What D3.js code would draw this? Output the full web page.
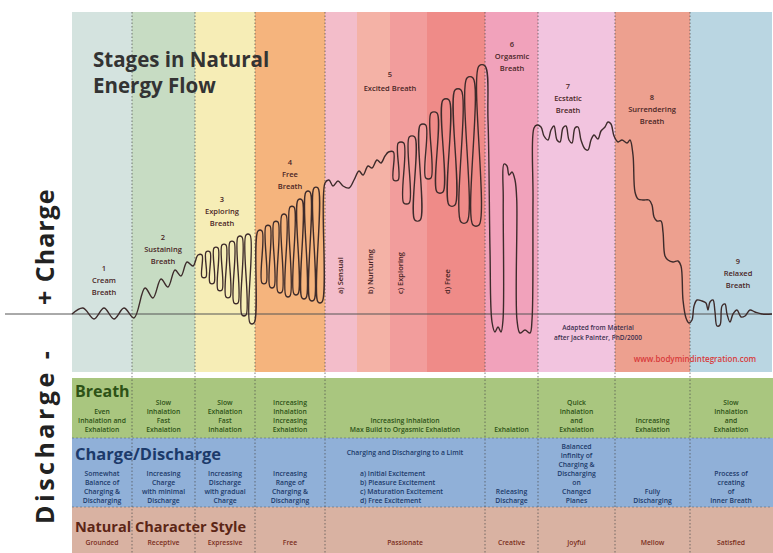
<!DOCTYPE html>
<html>
<head>
<meta charset="utf-8">
<script src="https://cdn.jsdelivr.net/npm/d3@7"></script>
<style>
body { margin: 0; background: #fff; }
svg { display: block; font-family: "Open Sans", "DejaVu Sans", sans-serif; }
</style>
</head>
<body>
<svg id="chart" width="773" height="553"></svg>
<script>
// ---- data (time units along x, charge level along y, 0 = baseline) ----
var stageNums = ["1", "2", "3", "4", "5", "6", "7", "8", "9"];
var stageNames = [["Cream", "Breath"], ["Sustaining", "Breath"], ["Exploring", "Breath"],
  ["Free", "Breath"], ["Excited Breath"], ["Orgasmic", "Breath"], ["Ecstatic", "Breath"],
  ["Surrendering", "Breath"], ["Relaxed", "Breath"]];
var stageBounds = [0, 12, 24.6, 36.6, 50.6, 82.6, 93.2, 108.6, 123.6, 140];
var excitedBounds = [50.6, 57, 63.6, 71, 82.6];
var excitedLabels = ["a) Sensual", "b) Nurturing", "c) Exploring", "d) Free"];

// gentle wave (stage 1) rising into stage 2
var calmWave = [[0, 0], [2.2, 2.4], [4.4, -2], [6.4, 2.4], [8.4, -2], [10.4, 2.4], [12.4, -1.6],
  [14.6, 10.4], [16.2, 6.4], [17.8, 14], [19.2, 10.8], [20.6, 17.6], [21.8, 15.2], [23, 20.8], [24.2, 19.2]];

// breath pulses: centre, top, bottom
var exploringT = [25.6, 27.2, 28.8, 30.4, 32, 33.6, 35.2];
var exploringTop = [23.6, 24.8, 26.4, 27.6, 28.8, 30.8, 31.6];
var exploringBot = [14.8, 12.4, 9.6, 6.8, 4.4, -0.4, -3.6];

var freeT = [37.6, 39.2, 40.8, 42.4, 44, 45.6, 47.2, 48.8];
var freeTop = [33.2, 35.2, 36.8, 39.6, 42.8, 45.6, 48.8, 50.4];
var freeBot = [12.4, 10.8, 8.8, 7.2, 8, 6.4, 5.6, 4.8];

var excitedWave = [[50.6, 52.4], [51.4, 53.6], [52.2, 51.2], [53.2, 53.2], [54.2, 51.2], [55.4, 50.4],
  [56.4, 53.6], [57.4, 57.2], [58.2, 55.6], [59.2, 59.2], [60, 58.4], [61, 61.6], [61.8, 60.4], [62.6, 63.2]];
var excitedT = [63.8, 65.8, 68, 70.2, 72.4, 74.8, 77.2, 79.6, 82];
var excitedTop = [64.8, 68.4, 70.8, 75.6, 80.4, 85.6, 89.6, 94.4, 99.2];
var excitedBot = [53.6, 44.4, 37.6, 54.4, 48.8, 43.6, 36.8, 35.6, null];

var orgasmicWave = [[83.2, 77.6], [83.6, 25.6], [84, -3.2], [84.6, -7.2], [85.2, -5.2], [85.8, -7.2],
  [86.2, -2.4], [86.25, 45.6], [86.4, 60], [87, 59.2], [87.4, 55.6], [88, 56.8], [88.6, 53.6],
  [88.95, 45.6], [89, -2.4], [89.6, -7.6], [90.6, -6.4], [91.6, -7.6], [92, -2.4], [92.2, 45.6], [92.4, 74.4]];

var ecstaticWave = [[93, 75.6], [93.8, 74.8], [94.4, 71.2], [95.2, 69.6], [95.8, 73.6], [96.4, 75.2],
  [97, 69.6], [97.6, 68.8], [98.2, 74.4], [98.8, 75.2], [99.4, 69.6], [100, 68.4], [100.6, 74.4],
  [101.2, 74.8], [101.8, 69.6], [102.6, 66], [103.2, 65.6], [103.8, 69.6], [104.4, 71.6], [105.2, 70],
  [105.8, 73.2], [106.6, 74.8], [107.2, 76.8], [107.8, 76], [108.4, 71.2], [109.2, 68.8]];

var surrenderWave = [[110, 69.6], [111, 68.4], [111.6, 69.6], [112.2, 63.6], [112.6, 48.8], [113.2, 46],
  [114.2, 45.6], [115.4, 45.6], [116, 43.6], [116.4, 38.8], [117, 37.2], [117.8, 37.2], [118.2, 32.8],
  [118.6, 23.2], [119.2, 21.6], [120.2, 20.8], [121.2, 21.2], [121.8, 19.2], [122.2, 5.6],
  [122.8, -1.6], [123.4, -3.6], [124, -2.4]];

var relaxedWave = [[124.4, 3.2], [125, 5.6], [126, 5.2], [126.8, 4.4], [127.2, 1.6], [127.6, 4.8],
  [128.2, 5.6], [128.6, 0.8], [129, -4.8], [129.6, -4.4], [130, 3.2], [130.6, 4], [131, 0],
  [131.6, -3.2], [132.2, 0], [133, 1.6], [133.8, -1.2], [134.6, -0.8], [135.6, 1.6], [136.6, 0.8],
  [138, 0], [140, 0]];

// table rows
var breathRow = [["Even", "Inhalation and", "Exhalation"], ["Slow", "Inhalation", "Fast", "Exhalation"],
  ["Slow", "Exhalation", "Fast", "Inhalation"], ["Increasing", "Inhalation", "Increasing", "Exhalation"],
  ["Increasing Inhalation", "Max Build to Orgasmic Exhalation"], ["Exhalation"],
  ["Quick", "Inhalation", "and", "Exhalation"], ["Increasing", "Exhalation"],
  ["Slow", "Inhalation", "and", "Exhalation"]];
var chargeRow = [["Somewhat", "Balance of", "Charging &", "Discharging"],
  ["Increasing", "Charge", "with minimal", "Discharge"], ["Increasing", "Discharge", "with gradual", "Charge"],
  ["Increasing", "Range of", "Charging &", "Discharging"], [],
  ["Releasing", "Discharge"],
  ["Balanced", "Infinity of", "Charging &", "Discharging", "on", "Changed", "Planes"],
  ["Fully", "Discharging"], ["Process of", "creating", "of", "Inner Breath"]];
var chargeLimitTitle = "Charging and Discharging to a Limit";
var chargeLimitList = ["a) Initial Excitement", "b) Pleasure Excitement", "c) Maturation Excitement", "d) Free Excitement"];
var characterRow = ["Grounded", "Receptive", "Expressive", "Free", "Passionate", "Creative", "Joyful", "Mellow", "Satisfied"];

// ---- styles & layout ----
var stageColors = ["#d4e3df", "#c7dcc3", "#f6edb6", "#f5b47d", null, "#f1a2bb", "#f2c4df", "#eda08f", "#bad6e2"];
var excitedColors = ["#f3bdca", "#f4b2a6", "#f29d9c", "#ef8b88"];
var labelAnchors = [[6.4, 17.2], [18.2, 29.6], [30, 44.8], [43.6, 59.6], [63.6, 94.8],
  [88, 106.8], [99.2, 90], [116, 85.6], [133.2, 20]];
var plotTop = 12, plotBottom = 372;
var rows = {breath: [378, 438], charge: [438, 507], character: [507, 553]};

var svg = d3.select("#chart");

var x = d3.scaleLinear().domain([0, 140]).range([72, 772]);
var y = d3.scaleLinear().domain([-20, 100]).range([364, 64]);

// background bands
stageBounds.slice(0, -1).forEach(function(b, i) {
  if (i === 4) return;
  svg.append("rect")
    .attr("x", x(b)).attr("y", plotTop)
    .attr("width", x(stageBounds[i + 1]) - x(b)).attr("height", plotBottom - plotTop)
    .attr("fill", stageColors[i]);
});
excitedBounds.slice(0, -1).forEach(function(b, i) {
  svg.append("rect")
    .attr("x", x(b)).attr("y", plotTop)
    .attr("width", x(excitedBounds[i + 1]) - x(b)).attr("height", plotBottom - plotTop)
    .attr("fill", excitedColors[i]);
});

// table rows
var rowColors = {breath: "#a9c67f", charge: "#90b0d8", character: "#d9b2a2"};
Object.keys(rows).forEach(function(k) {
  svg.append("rect")
    .attr("x", x(0)).attr("y", rows[k][0])
    .attr("width", x(140) - x(0) + 1).attr("height", rows[k][1] - rows[k][0])
    .attr("fill", rowColors[k]);
});
[rows.charge[0], rows.character[0]].forEach(function(yy) {
  svg.append("line")
    .attr("x1", x(0)).attr("x2", x(140))
    .attr("y1", yy).attr("y2", yy)
    .attr("stroke", "#5a6b7a").attr("stroke-width", 1)
    .attr("stroke-dasharray", "2,2").attr("opacity", 0.6);
});

// dotted stage dividers
stageBounds.slice(1, -1).forEach(function(b) {
  svg.append("line")
    .attr("x1", x(b)).attr("x2", x(b))
    .attr("y1", plotTop).attr("y2", 553)
    .attr("stroke", "#4a4a4a").attr("stroke-width", 1)
    .attr("stroke-dasharray", "1.5,2").attr("opacity", 0.7);
});

// baseline
svg.append("line")
  .attr("x1", 5).attr("x2", x(140))
  .attr("y1", y(0)).attr("y2", y(0))
  .attr("stroke", "#555").attr("stroke-width", 1);

// build waveform vertices
function pulses(ts, tops, bots) {
  var pts = [];
  ts.forEach(function(c, i) {
    var sp = i < ts.length - 1 ? ts[i + 1] - c : c - ts[i - 1];
    var hw = sp / 4;
    pts.push([c - hw, tops[i]], [c + hw, tops[i]]);
    if (bots[i] !== null) {
      var nextHw = i < ts.length - 2 ? (ts[i + 2] - ts[i + 1]) / 4 : hw;
      var nextLeft = i < ts.length - 1 ? ts[i + 1] - nextHw : c + 3 * hw;
      pts.push([c + hw, bots[i]], [nextLeft, bots[i]]);
    }
  });
  return pts;
}

var wave = [].concat(
  calmWave,
  pulses(exploringT, exploringTop, exploringBot),
  pulses(freeT, freeTop, freeBot),
  excitedWave,
  pulses(excitedT, excitedTop, excitedBot),
  orgasmicWave, ecstaticWave, surrenderWave, relaxedWave
);

var line = d3.line()
  .x(function(d) { return x(d[0]); })
  .y(function(d) { return y(d[1]); })
  .curve(d3.curveCatmullRom.alpha(0.5));

svg.append("path")
  .datum(wave)
  .attr("d", line)
  .attr("fill", "none")
  .attr("stroke", "#3d2b2b")
  .attr("stroke-width", 1.4)
  .attr("stroke-linejoin", "round");

// title
var title = svg.append("text")
  .attr("x", 93).attr("y", 67)
  .attr("font-size", 20.5).attr("font-weight", 700).attr("fill", "#333");
title.append("tspan").attr("x", 93).text("Stages in Natural");
title.append("tspan").attr("x", 93).attr("dy", 26).text("Energy Flow");

// stage labels
labelAnchors.forEach(function(a, i) {
  var t = svg.append("text")
    .attr("text-anchor", "middle")
    .attr("font-size", 7.5).attr("font-weight", 600)
    .attr("fill", "#4a2626");
  var lines = [stageNums[i]].concat(stageNames[i]);
  var lh = i === 4 ? 14 : 12;
  lines.forEach(function(s, j) {
    t.append("tspan").attr("x", x(a[0])).attr("y", y(a[1]) + j * lh).text(s);
  });
});

// excited sub labels (rotated)
var subX = [53.6, 59.6, 65.6, 75];
excitedLabels.forEach(function(s, i) {
  svg.append("text")
    .attr("transform", "translate(" + (x(subX[i]) + 3) + "," + y(8) + ") rotate(-90)")
    .attr("font-size", 7.5).attr("font-weight", 600)
    .attr("fill", "#4a2626")
    .text(s);
});

// credit
svg.append("text")
  .attr("x", 598).attr("y", 330).attr("text-anchor", "middle")
  .attr("font-size", 6.5).attr("font-weight", 600).attr("fill", "#3d3050")
  .text("Adapted from Material");
svg.append("text")
  .attr("x", 598).attr("y", 340).attr("text-anchor", "middle")
  .attr("font-size", 6.5).attr("font-weight", 600).attr("fill", "#3d3050")
  .text("after Jack Painter, PhD/2000");
svg.append("text")
  .attr("x", 695).attr("y", 362).attr("text-anchor", "middle")
  .attr("font-size", 8).attr("font-weight", 600).attr("fill", "#d83a3a")
  .text("www.bodymindintegration.com");

// axis label
svg.append("text")
  .attr("transform", "translate(54,305) rotate(-90)")
  .attr("font-size", 25).attr("font-weight", 700).attr("fill", "#222")
  .attr("letter-spacing", 1)
  .text("+ Charge");
svg.append("text")
  .attr("transform", "translate(54,524) rotate(-90)")
  .attr("font-size", 25).attr("font-weight", 700).attr("fill", "#222")
  .attr("letter-spacing", 3.5)
  .text("Discharge -");

// table text
function cellText(lines, i, bottom, color) {
  var cx = (x(stageBounds[i]) + x(stageBounds[i + 1])) / 2;
  var t = svg.append("text").attr("text-anchor", "middle")
    .attr("font-size", 6.8).attr("font-weight", 600).attr("fill", color);
  lines.forEach(function(s, j) {
    t.append("tspan").attr("x", cx).attr("y", bottom - (lines.length - 1 - j) * 9).text(s);
  });
}

svg.append("text").attr("x", 75).attr("y", 397)
  .attr("font-size", 16).attr("font-weight", 700).attr("fill", "#2d5216").text("Breath");
breathRow.forEach(function(l, i) { cellText(l, i, 432, "#2d5216"); });

svg.append("text").attr("x", 75).attr("y", 460)
  .attr("font-size", 16.5).attr("font-weight", 700).attr("fill", "#1c3a6a").text("Charge/Discharge");
chargeRow.forEach(function(l, i) { cellText(l, i, 503, "#1c3a6a"); });
svg.append("text")
  .attr("x", (x(stageBounds[4]) + x(stageBounds[5])) / 2).attr("y", 455)
  .attr("text-anchor", "middle").attr("font-size", 6.8).attr("font-weight", 600)
  .attr("fill", "#1c3a6a").text(chargeLimitTitle);
chargeLimitList.forEach(function(s, j) {
  svg.append("text").attr("x", 360).attr("y", 476 + j * 9)
    .attr("font-size", 6.8).attr("font-weight", 600).attr("fill", "#1c3a6a").text(s);
});

svg.append("text").attr("x", 75).attr("y", 532)
  .attr("font-size", 14.5).attr("font-weight", 700).attr("fill", "#5c2616").text("Natural Character Style");
characterRow.forEach(function(s, i) { cellText([s], i, 545, "#7a2e1c"); });
</script>
</body>
</html>
